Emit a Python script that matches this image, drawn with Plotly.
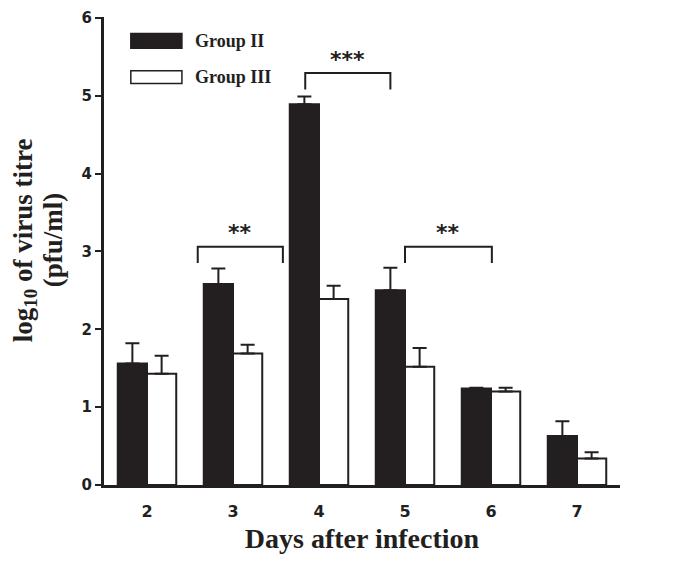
import plotly.graph_objects as go

# data
days = ["2", "3", "4", "5", "6", "7"]
group_ii = [1.56, 2.58, 4.89, 2.50, 1.24, 0.63]
group_ii_err = [0.26, 0.20, 0.10, 0.29, 0.01, 0.19]
group_iii = [1.43, 1.69, 2.39, 1.52, 1.20, 0.34]
group_iii_err = [0.23, 0.11, 0.17, 0.24, 0.05, 0.08]

# significance brackets: (x start, x end, top, bottom of legs, label)
brackets = [
    (0.59, 1.58, 3.06, 2.85, "**"),
    (1.84, 2.83, 5.29, 5.08, "***"),
    (3.00, 4.01, 3.06, 2.85, "**"),
]

BLACK = "#231f20"
SERIF = "Liberation Serif"
HEAVY = "DejaVu Sans"

fig = go.Figure()

fig.add_trace(
    go.Bar(
        x=days,
        y=group_ii,
        name="Group II",
        marker=dict(color=BLACK, line=dict(color=BLACK, width=2)),
        error_y=dict(
            type="data",
            array=group_ii_err,
            symmetric=False,
            arrayminus=[0] * len(days),
            color=BLACK,
            thickness=2,
            width=7,
        ),
    )
)
fig.add_trace(
    go.Bar(
        x=days,
        y=group_iii,
        name="Group III",
        marker=dict(color="white", line=dict(color=BLACK, width=2)),
        error_y=dict(
            type="data",
            array=group_iii_err,
            symmetric=False,
            arrayminus=[0] * len(days),
            color=BLACK,
            thickness=2,
            width=7,
        ),
    )
)

# brackets with stars
for x0, x1, top, bottom, label in brackets:
    fig.add_shape(
        type="path",
        xref="x",
        yref="y",
        path=f"M {x0},{bottom} L {x0},{top} L {x1},{top} L {x1},{bottom}",
        line=dict(color=BLACK, width=2),
    )
    fig.add_annotation(
        x=(x0 + x1) / 2,
        y=top,
        yshift=14,
        text=f"<b>{label}</b>",
        showarrow=False,
        font=dict(family=HEAVY, size=22, color=BLACK),
    )

# hand-drawn legend, like the figure
legend_items = [("Group II", BLACK, 0.965, 0.933), ("Group III", "white", 0.885, 0.858)]
for text, fill, y_top, y_bot in legend_items:
    fig.add_shape(
        type="rect",
        xref="paper",
        yref="paper",
        x0=0.052,
        x1=0.151,
        y0=y_bot,
        y1=y_top,
        fillcolor=fill,
        line=dict(color=BLACK, width=1.5),
    )
    fig.add_annotation(
        xref="paper",
        yref="paper",
        x=0.172,
        y=(y_top + y_bot) / 2,
        xanchor="left",
        yanchor="middle",
        text=f"<b>{text}</b>",
        showarrow=False,
        font=dict(family=SERIF, size=18, color=BLACK),
    )

# y title as two rotated lines (tighter line spacing than an axis title)
for text, shift in [("<b>log<sub>10</sub> of virus titre</b>", -79), ("<b>(pfu/ml)</b>", -51)]:
    fig.add_annotation(
        xref="paper",
        yref="paper",
        x=0,
        y=0.523,
        xshift=shift,
        xanchor="center",
        yanchor="middle",
        textangle=-90,
        text=text,
        showarrow=False,
        font=dict(family=SERIF, size=27, color=BLACK),
    )

# the page body adds 8px on the left/top, so the figure is sized to fit
fig.update_layout(
    width=683,
    height=553,
    showlegend=False,
    plot_bgcolor="white",
    paper_bgcolor="white",
    margin=dict(l=96, r=71, t=9, b=76),
    barmode="group",
    bargap=0.32,
    bargroupgap=0,
    xaxis=dict(
        automargin=False,
        showline=True,
        linecolor=BLACK,
        linewidth=3,
        ticks="",
        ticklabelstandoff=10,
        showgrid=False,
        tickfont=dict(family=HEAVY, size=16, color=BLACK, weight="bold"),
        title=dict(
            text="<b>Days after infection</b>",
            font=dict(family=SERIF, size=28, color=BLACK),
            standoff=9,
        ),
    ),
    yaxis=dict(
        automargin=False,
        range=[0, 6.01],
        tickvals=[0, 1, 2, 3, 4, 5, 6],
        showline=True,
        linecolor=BLACK,
        linewidth=3,
        ticks="outside",
        ticklen=6,
        tickwidth=2,
        tickcolor=BLACK,
        ticklabeloverflow="allow",
        showgrid=False,
        zeroline=False,
        tickfont=dict(family=HEAVY, size=15, color=BLACK, weight="bold"),
    ),
)

fig.write_html("out.html")
